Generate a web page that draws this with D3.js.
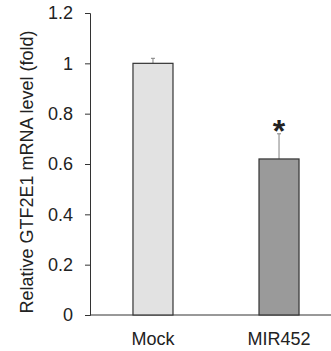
<!DOCTYPE html>
<html>
<head>
<meta charset="utf-8">
<script src="https://cdn.jsdelivr.net/npm/d3@7"></script>
<style>
  body { margin: 0; background: #fff; }
  text { font-family: "Liberation Sans", Arial, sans-serif; fill: #222; }
</style>
</head>
<body>
<svg id="chart" width="331" height="351"></svg>
<script>
// data
const groups = ['Mock', 'MIR452'];
const values = [1.0, 0.62];
const errors = [0.02, 0.10];
const fills = ['#e2e2e2', '#9a9a9a'];
const significant = [false, true];
const yTicks = [0, 0.2, 0.4, 0.6, 0.8, 1, 1.2];

const svg = d3.select('#chart');

const x = d3.scaleBand()
  .domain(groups)
  .range([90, 342])
  .paddingInner(0.6825)
  .paddingOuter(0.341);

const y = d3.scaleLinear().domain([0, 1.2]).range([315, 13]);

// y axis
const yAxis = svg.append('g')
  .attr('transform', 'translate(90,0)')
  .call(d3.axisLeft(y).tickValues(yTicks).tickSize(5).tickPadding(12)
    .tickFormat(d => d3.format('')(d)));
yAxis.select('.domain').attr('stroke', '#333');
yAxis.selectAll('.tick line').attr('stroke', '#333');
yAxis.selectAll('.tick text')
  .style('font-size', '18px')
  .style('font-family', '"Liberation Sans", Arial, sans-serif')
  .attr('fill', '#222');

// x axis baseline
svg.append('line')
  .attr('x1', 90).attr('x2', 331)
  .attr('y1', y(0)).attr('y2', y(0))
  .attr('stroke', '#333');

// error bars (drawn before bars so lower half is hidden)
const eb = svg.append('g').selectAll('g')
  .data(groups)
  .join('g');
eb.append('line')
  .attr('x1', d => x(d) + x.bandwidth() / 2)
  .attr('x2', d => x(d) + x.bandwidth() / 2)
  .attr('y1', (d, i) => y(values[i]))
  .attr('y2', (d, i) => y(values[i] + errors[i]))
  .attr('stroke', '#808080');
eb.append('line')
  .attr('x1', d => x(d) + x.bandwidth() / 2 - 2)
  .attr('x2', d => x(d) + x.bandwidth() / 2 + 2)
  .attr('y1', (d, i) => y(values[i] + errors[i]))
  .attr('y2', (d, i) => y(values[i] + errors[i]))
  .attr('stroke', '#808080');

// bars
svg.append('g').selectAll('rect')
  .data(groups)
  .join('rect')
  .attr('x', d => x(d))
  .attr('y', (d, i) => y(values[i]))
  .attr('width', x.bandwidth())
  .attr('height', (d, i) => y(0) - y(values[i]))
  .attr('fill', (d, i) => fills[i])
  .attr('stroke', '#333')
  .attr('stroke-width', 1.2);

// significance star
svg.append('g').selectAll('text')
  .data(groups.filter((d, i) => significant[i]))
  .join('text')
  .attr('x', d => x(d) + x.bandwidth() / 2)
  .attr('y', d => y(values[groups.indexOf(d)] + errors[groups.indexOf(d)]) + 8)
  .attr('text-anchor', 'middle')
  .style('font-size', '32px')
  .style('font-weight', 'bold')
  .text('*');

// category labels
svg.append('g').selectAll('text')
  .data(groups)
  .join('text')
  .attr('x', d => x(d) + x.bandwidth() / 2)
  .attr('y', 345)
  .attr('text-anchor', 'middle')
  .style('font-size', '18px')
  .text(d => d);

// y title
svg.append('text')
  .attr('transform', 'translate(33,172) rotate(-90)')
  .attr('text-anchor', 'middle')
  .style('font-size', '18px')
  .text('Relative GTF2E1 mRNA level (fold)');
</script>
</body>
</html>
